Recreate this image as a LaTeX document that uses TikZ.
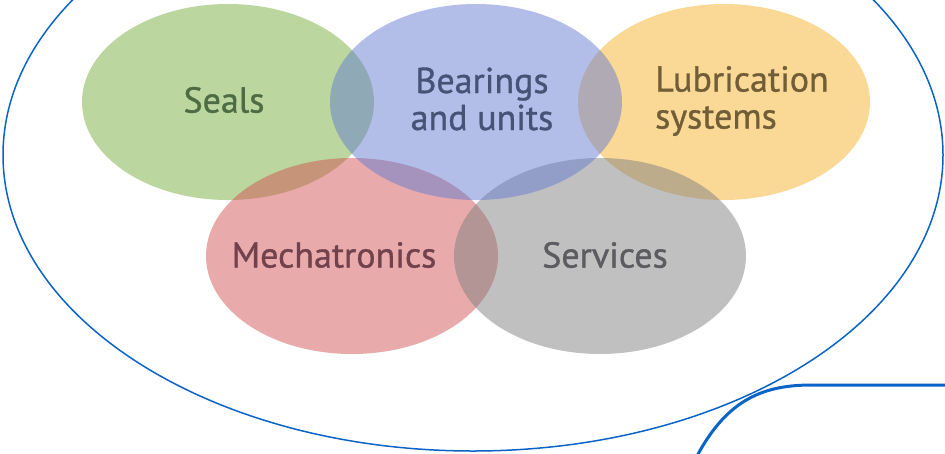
\documentclass[tikz,border=0pt]{standalone}
\usepackage{fontspec}
\setmainfont{PT Sans}
\newfontfamily\petalfont{PT Sans}[FakeBold=0.9]
\usetikzlibrary{shapes.geometric}
\definecolor{ringblue}{RGB}{10,100,200}
\definecolor{sealgreen}{RGB}{119,173,61}
\definecolor{bearblue}{RGB}{101,125,209}
\definecolor{lubyellow}{RGB}{245,177,45}
\definecolor{mechred}{RGB}{209,85,85}
\definecolor{servgray}{RGB}{129,129,129}
\tikzset{
  petal/.style={ellipse,minimum width=292pt,minimum height=196pt,inner sep=0pt,fill opacity=0.5},
  petaltext/.style={font=\petalfont\fontsize{36}{37}\selectfont,inner sep=0pt}
}
\begin{document}
\begin{tikzpicture}[x=1pt,y=-1pt]
    \useasboundingbox (0,0) rectangle (945,453);
    % circles of the offer
    \node[petal,fill=lubyellow](lub) at (724,102) {};
    \node[petal,fill=sealgreen](seal) at (228,102) {};
    \node[petal,fill=mechred](mech) at (352,256) {};
    \node[petal,fill=servgray](serv) at (600,256) {};
    \node[petal,fill=bearblue](bear) at (476,102) {};
    % labels
    \node[petaltext,text={rgb,255:red,78;green,108;blue,68}](sealtxt) at (224,100) {Seals};
    \node[petaltext,align=center,text={rgb,255:red,72;green,82;blue,118}](beartxt) at (482,99) {Bearings\\and units};
    \node[petaltext,align=left,anchor=west,text={rgb,255:red,114;green,94;blue,54}](lubtxt) at (655,101) {Lubrication\\systems};
    \node[petaltext,text={rgb,255:red,114;green,66;blue,76}](mechtxt) at (334,255) {Mechatronics};
    \node[petaltext,text={rgb,255:red,92;green,92;blue,96}](servtxt) at (605,255) {Services};
    % outline
    \draw[ringblue,line width=1.5pt] (473,155) ellipse [x radius=470,y radius=296];
    \draw[ringblue,line width=3pt] (697,456) .. controls (728,398) and (765,385) .. (812,385) -- (948,385);
\end{tikzpicture}
\end{document}
